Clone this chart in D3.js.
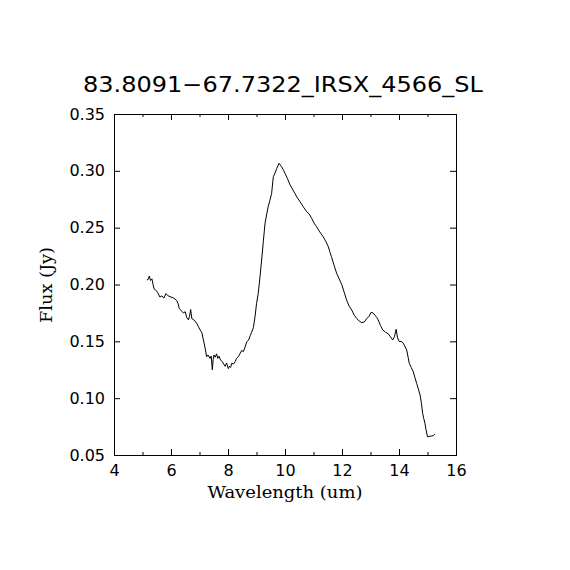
<!DOCTYPE html>
<html>
<head>
<meta charset="utf-8">
<script src="https://cdn.jsdelivr.net/npm/d3@7/dist/d3.min.js"></script>
<style>
  body { margin: 0; background: #fff; }
  svg { display: block; }
</style>
</head>
<body>
<svg></svg>
<script>
var width = 570;
var height = 570;

var title = "83.8091\u221267.7322_IRSX_4566_SL";
var xLabel = "Wavelength (um)";
var yLabel = "Flux (Jy)";

// wavelength (um)
var wavelength = [
  5.15,5.20,5.24,5.28,5.33,5.37,5.41,5.47,5.53,5.61,
  5.68,5.75,5.82,5.90,6.00,6.10,6.20,6.25,6.29,6.36,
  6.43,6.50,6.55,6.61,6.65,6.69,6.73,6.80,6.90,6.96,
  7.02,7.08,7.13,7.19,7.25,7.30,7.37,7.41,7.45,7.48,
  7.51,7.55,7.60,7.64,7.68,7.74,7.80,7.85,7.90,7.95,
  8.01,8.05,8.09,8.13,8.19,8.25,8.30,8.36,8.42,8.48,
  8.54,8.60,8.66,8.72,8.78,8.83,8.89,8.95,9.00,9.06,
  9.12,9.18,9.24,9.30,9.36,9.41,9.47,9.53,9.59,9.65,
  9.71,9.79,9.88,9.94,10.00,10.09,10.18,10.26,10.35,10.44,
  10.53,10.65,10.76,10.85,10.94,11.02,11.11,11.20,11.34,11.43,
  11.52,11.57,11.63,11.72,11.81,11.90,11.99,12.08,12.16,12.25,
  12.34,12.43,12.52,12.60,12.69,12.78,12.87,12.95,13.02,13.09,
  13.16,13.22,13.27,13.35,13.43,13.53,13.63,13.70,13.78,13.84,
  13.90,13.95,14.01,14.07,14.13,14.20,14.27,14.32,14.36,14.43,
  14.50,14.56,14.62,14.68,14.74,14.79,14.83,14.87,14.91,14.95,
  15.00,15.08,15.15,15.20,15.26
];

// flux (Jy)
var flux = [
  .204,.2045,.2075,.2035,.205,.200,.196,.195,.193,.189,
  .190,.188,.192,.190,.189,.188,.186,.183,.179,.177,
  .175,.176,.171,.169,.172,.178,.170,.169,.166,.163,
  .160,.158,.152,.145,.1365,.138,.135,.137,.125,.134,
  .138,.136,.139,.135,.137,.1336,.132,.130,.128,.131,
  .126,.128,.127,.1307,.130,.132,.135,.1365,.139,.142,
  .141,.145,.1497,.151,.155,.158,.162,.172,.183,.192,
  .206,.2216,.238,.254,.262,.2685,.274,.280,.2948,.298,
  .302,.3066,.3036,.301,.2978,.293,.2875,.284,.280,.276,
  .2728,.268,.264,.262,.258,.254,.2508,.247,.242,.238,
  .2333,.229,.2245,.217,.210,.205,.200,.193,.1864,.181,
  .1776,.173,.170,.168,.1664,.167,.170,.172,.1755,.175,
  .173,.171,.1688,.164,.160,.158,.1565,.154,.1512,.154,
  .1606,.153,.1497,.150,.149,.146,.1424,.136,.1307,.127,
  .1233,.118,.113,.108,.1028,.095,.0867,.082,.0779,.072,
  .066,.0665,.0667,.067,.0685
];

var xMajor = [4, 6, 8, 10, 12, 14, 16];
var xMinor = [5, 7, 9, 11, 13, 15];
var yMajor = [0.05, 0.10, 0.15, 0.20, 0.25, 0.30, 0.35];

var margin = {left: 114, top: 114, right: 114, bottom: 115};

var svg = d3.select('svg')
  .attr('width', width)
  .attr('height', height);

var x = d3.scaleLinear().domain([4, 16]).range([margin.left, width - margin.right]);
var y = d3.scaleLinear().domain([0.05, 0.35]).range([height - margin.bottom, margin.top]);

var tickFont = "'DejaVu Sans', sans-serif";
var labelFont = "'DejaVu Serif', serif";

// axes on all four sides, pgplot style ticks pointing inward
var axBottom = svg.append('g').attr('transform', 'translate(0,' + y.range()[0] + ')')
  .call(d3.axisBottom(x).tickValues(xMajor).tickSize(-6).tickPadding(10).tickFormat(d3.format('d')));
axBottom.append('g').call(d3.axisBottom(x).tickValues(xMinor).tickSize(-3).tickFormat(''));

var axTop = svg.append('g').attr('transform', 'translate(0,' + y.range()[1] + ')')
  .call(d3.axisTop(x).tickValues(xMajor).tickSize(-6).tickFormat(''));
axTop.append('g').call(d3.axisTop(x).tickValues(xMinor).tickSize(-3).tickFormat(''));

svg.append('g').attr('transform', 'translate(' + x.range()[0] + ',0)')
  .call(d3.axisLeft(y).tickValues(yMajor).tickSize(-6).tickPadding(9).tickFormat(d3.format('.2f')));

svg.append('g').attr('transform', 'translate(' + x.range()[1] + ',0)')
  .call(d3.axisRight(y).tickValues(yMajor).tickSize(-6).tickFormat(''));

svg.selectAll('.domain').attr('stroke', '#000').attr('stroke-width', 1);
svg.selectAll('.tick line').attr('stroke', '#000');
svg.selectAll('.tick text')
  .attr('fill', '#000')
  .style('font-family', tickFont)
  .style('font-size', '16px');

// spectrum
var line = d3.line()
  .x(function(d, i){ return x(wavelength[i]); })
  .y(function(d){ return y(d); });

svg.append('path')
  .datum(flux)
  .attr('d', line)
  .attr('fill', 'none')
  .attr('stroke', '#000')
  .attr('stroke-width', 1);

svg.append('text')
  .attr('x', 283).attr('y', 92)
  .attr('text-anchor', 'middle')
  .attr('textLength', 400)
  .attr('lengthAdjust', 'spacingAndGlyphs')
  .style('font-family', tickFont)
  .style('font-size', '21px')
  .text(title);

svg.append('text')
  .attr('x', (x.range()[0] + x.range()[1]) / 2).attr('y', 498)
  .attr('text-anchor', 'middle')
  .attr('textLength', 155)
  .attr('lengthAdjust', 'spacingAndGlyphs')
  .style('font-family', labelFont)
  .style('font-size', '17px')
  .text(xLabel);

svg.append('text')
  .attr('transform', 'translate(52,285) rotate(-90)')
  .attr('text-anchor', 'middle')
  .attr('textLength', 76)
  .attr('lengthAdjust', 'spacingAndGlyphs')
  .style('font-family', labelFont)
  .style('font-size', '16px')
  .text(yLabel);
</script>
</body>
</html>
